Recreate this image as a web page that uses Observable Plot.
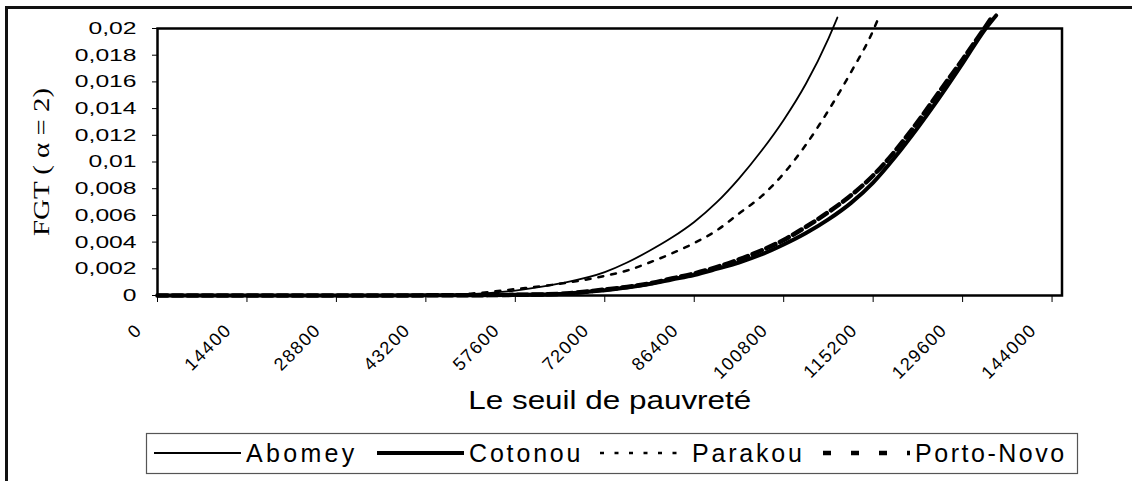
<!DOCTYPE html>
<html><head><meta charset="utf-8">
<script src="https://cdn.jsdelivr.net/npm/d3@7"></script>
<script src="https://cdn.jsdelivr.net/npm/@observablehq/plot@0.6"></script>
<style>
html,body{margin:0;padding:0;background:#fff;width:1132px;height:481px;overflow:hidden;}
#frame{position:absolute;left:5px;top:6px;width:1150px;height:520px;border:3px solid #111;box-sizing:border-box;pointer-events:none;}
#chart{position:absolute;left:0;top:0;}
#legend{position:absolute;left:0;top:430px;}
</style></head><body>
<div id="chart"></div><div id="legend"></div><div id="frame"></div>
<script>
// ---- data ----
const seriesNames = ["Abomey", "Cotonou", "Parakou", "Porto-Novo"];

const abomeySeuil = [0, 14400, 28800, 43200, 50400, 57600, 64800, 72000, 75600, 79200, 82800, 86400, 90000, 93600, 97200, 100800, 104400, 108000, 109440];
const abomeyFGT   = [0, 0, 0.00001, 0.00002, 0.0001, 0.00037, 0.0009, 0.00175, 0.00247, 0.00335, 0.00434, 0.00551, 0.00697, 0.00876, 0.01082, 0.01315, 0.01588, 0.01925, 0.02082];

const cotonouSeuil = [0, 14400, 28800, 43200, 50400, 57600, 64800, 72000, 75600, 79200, 82800, 86400, 90000, 93600, 97200, 100800, 104400, 108000, 111600, 115200, 118800, 122400, 126000, 129600, 133200, 135000];
const cotonouFGT   = [0, 0, 0, 0.00001, 0.00002, 0.00005, 0.00011, 0.0004, 0.0006, 0.00086, 0.0012, 0.00154, 0.00199, 0.00247, 0.00307, 0.00382, 0.00468, 0.0057, 0.00692, 0.00846, 0.01041, 0.01258, 0.01491, 0.01738, 0.01993, 0.02098];

const parakouSeuil = [0, 14400, 28800, 43200, 50400, 57600, 64800, 72000, 75600, 79200, 82800, 86400, 90000, 93600, 97200, 100800, 104400, 108000, 111600, 115200, 116000];
const parakouFGT   = [0, 0, 0.00001, 0.00003, 0.00014, 0.00048, 0.00088, 0.00147, 0.00187, 0.00247, 0.00315, 0.00393, 0.00487, 0.00614, 0.00742, 0.00914, 0.01131, 0.01386, 0.0167, 0.01985, 0.02073];

const portoNovoSeuil = [0, 14400, 28800, 43200, 50400, 57600, 64800, 72000, 75600, 79200, 82800, 86400, 90000, 93600, 97200, 100800, 104400, 108000, 111600, 115200, 118800, 122400, 126000, 129600, 133200, 134400];
const portoNovoFGT   = [0, 0, 0, 0.00001, 0.00002, 0.00005, 0.00012, 0.00045, 0.00064, 0.0009, 0.00127, 0.00165, 0.00213, 0.0027, 0.00337, 0.00416, 0.00515, 0.00625, 0.00749, 0.00899, 0.01086, 0.01303, 0.01536, 0.01768, 0.02008, 0.0209];

const xTicks = [0, 14400, 28800, 43200, 57600, 72000, 86400, 100800, 115200, 129600, 144000];
const yTicks = [0, 0.002, 0.004, 0.006, 0.008, 0.01, 0.012, 0.014, 0.016, 0.018, 0.02];
const xLabel = "Le seuil de pauvreté";
const yLabel = "FGT ( α = 2)";

// ---- styles (kept apart from the data) ----
const styles = {
  "Abomey":     {width: 1.8, dash: null,   legendDash: null},
  "Cotonou":    {width: 4,   dash: null,   legendDash: null},
  "Parakou":    {width: 2.5, dash: "5,8",  legendDash: "4,10.5"},
  "Porto-Novo": {width: 4.5, dash: "10,5", legendDash: "8,20"}
};

const seuils = [abomeySeuil, cotonouSeuil, parakouSeuil, portoNovoSeuil];
const fgts = [abomeyFGT, cotonouFGT, parakouFGT, portoNovoFGT];
const rows = [];
seriesNames.forEach((name, i) => seuils[i].forEach((s, j) => rows.push({ville: name, seuil: s, fgt: fgts[i][j]})));

const chart = Plot.plot({
  width: 1132, height: 430,
  marginLeft: 157, marginRight: 70.5, marginTop: 28, marginBottom: 135,
  style: {fontFamily: "'Liberation Sans', Arial, sans-serif", fontSize: "17px", color: "#000", background: "#fff", overflow: "visible"},
  x: {domain: [0, 145600]},
  y: {domain: [0, 0.02]},
  marks: [
    ...seriesNames.map(name => Plot.line(rows.filter(d => d.ville === name), {
      x: "seuil", y: "fgt", stroke: "#000", strokeWidth: styles[name].width,
      strokeDasharray: styles[name].dash, curve: "monotone-x"
    })),
    Plot.frame({stroke: "#000", strokeWidth: 2.5}),
    Plot.axisY(yTicks, {tickSize: 5, tickPadding: 16, tickFormat: d => String(d).replace(".", ","),
      label: yLabel, labelAnchor: "center", labelArrow: "none", labelOffset: 126}),
    Plot.axisX(xTicks, {tickSize: 7, fill: "none", label: null}),
    Plot.axisX(xTicks, {tickSize: 0, tickPadding: 31.5, tickRotate: -45, dx: -18.5, fontSize: 18,
      tickFormat: d => String(d),
      label: xLabel, labelAnchor: "center", labelArrow: "none", labelOffset: 113})
  ]
});
document.getElementById("chart").appendChild(chart);

function stretchTo(selector, width, mode) {
  chart.querySelectorAll(selector).forEach(t => {
    t.setAttribute("textLength", width.toFixed(1));
    t.setAttribute("lengthAdjust", mode);
  });
}
function stretch(selector, k, mode) {
  chart.querySelectorAll(selector).forEach(t => {
    t.setAttribute("textLength", (t.getComputedTextLength() * k).toFixed(1));
    t.setAttribute("lengthAdjust", mode);
  });
}
chart.querySelectorAll('g[aria-label="y-axis label"] text').forEach(t => {
  t.style.fontFamily = "'Liberation Serif', 'Times New Roman', serif";
  t.style.fontSize = "24px";
});
chart.querySelectorAll('g[aria-label="x-axis label"] text').forEach(t => { t.style.fontSize = "26px"; });
chart.querySelectorAll('g[aria-label="x-axis tick label"] text').forEach(t => {
  t.style.fontSize = "18px"; t.style.letterSpacing = "1.5px";
});
stretch('g[aria-label="y-axis tick label"] text', 1.45, "spacingAndGlyphs");
stretchTo('g[aria-label="y-axis label"] text', 148, "spacingAndGlyphs");
stretchTo('g[aria-label="x-axis label"] text', 283, "spacingAndGlyphs");

// ---- legend (below the plot) ----
const lg = d3.select("#legend").append("svg").attr("width", 1132).attr("height", 51)
  .style("font-family", "'Liberation Sans', Arial, sans-serif").style("font-size", "25px");
lg.append("rect").attr("x", 146.5).attr("y", 3.5).attr("width", 931).attr("height", 40)
  .attr("fill", "#fff").attr("stroke", "#555").attr("stroke-width", 1.2);
seriesNames.forEach((name, i) => {
  const g = lg.append("g").attr("transform", `translate(${154 + i * 223},23)`);
  g.append("line").attr("x1", 0).attr("x2", 87).attr("stroke", "#000")
    .attr("stroke-width", styles[name].width).attr("stroke-dasharray", styles[name].legendDash);
  const t = g.append("text").attr("x", 92).attr("y", 9).attr("fill", "#000").text(name);
  const L = t.node().getComputedTextLength();
  t.attr("textLength", (L * 1.18).toFixed(1)).attr("lengthAdjust", "spacing");
});
</script>
</body></html>
